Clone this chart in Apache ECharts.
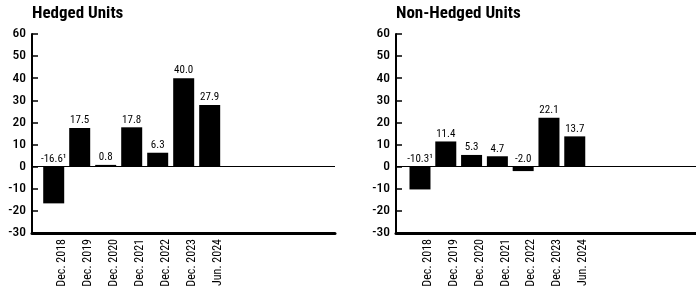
<!DOCTYPE html>
<html>
<head>
<meta charset="utf-8">
<script src="https://cdn.jsdelivr.net/npm/echarts@6/dist/echarts.min.js"></script>
<style>
  html, body { margin: 0; padding: 0; background: #fff; }
  #chart { width: 696px; height: 292px; }
</style>
</head>
<body>
<div id="chart"></div>
<script>
// data
const categories = ['Dec. 2018', 'Dec. 2019', 'Dec. 2020', 'Dec. 2021', 'Dec. 2022', 'Dec. 2023', 'Jun. 2024'];
const hedged = [-16.6, 17.5, 0.8, 17.8, 6.3, 40.0, 27.9];
const nonHedged = [-10.3, 11.4, 5.3, 4.7, -2.0, 22.1, 13.7];
const footnotes = ['\u00b9', '', '', '', '', '', ''];
const titles = ['Hedged Units', 'Non-Hedged Units'];

let ink = '#000';

// the original uses a condensed face; take the first narrow one we have
const ctx = document.createElement('canvas').getContext('2d');
function measure(txt, font) {
    ctx.font = font;
    return ctx.measureText(txt).width;
}
function hasFont(name) {
    const probe = 'abcdefghijklmnopqrstuvwxyz0123456789';
    return ['monospace', 'serif'].some(base =>
        measure(probe, '72px "' + name + '", ' + base) !== measure(probe, '72px ' + base));
}
const candidates = ['Liberation Sans Narrow', 'Noto Sans Condensed', 'Noto Sans SemiCondensed',
    'Roboto Condensed', 'Arial Narrow', 'Liberation Sans'];
const face = candidates.find(hasFont) || 'Liberation Sans';
const font = '"' + face + '", sans-serif';

// size each text role so its width matches the reference
function fit(txt, px, weight, cap) {
    const w = measure(txt, (weight || 'normal') + ' 100px ' + font);
    return Math.min(cap, Math.round(px / w * 100 * 2) / 2);
}
const titleSize = fit('Hedged Units', 91, 'bold', 17);
const yLabelSize = fit('-30', 17.5, '500', 15);
const valueSize = fit('17.5', 19.3, 'normal', 13);
const xLabelSize = fit('Dec. 2018', 48, 'normal', 13);

// grids sit a little right of the first bar slot, like the original
const panels = [
    {left: 32, width: 303, min: -0.835, max: 10.82, data: hedged},
    {left: 396, width: 300, min: -0.93, max: 10.70, data: nonHedged}
];

let chart = echarts.init(document.getElementById('chart'), null, {renderer: 'canvas'});

const toPairs = (arr) => arr.map((v, i) => [i, v]);

let option = {
    animation: false,
    backgroundColor: '#fff',
    title: panels.map((p, i) => ({
        text: titles[i],
        left: p.left,
        top: 5,
        padding: 0,
        textStyle: {fontFamily: font, fontSize: titleSize, fontWeight: 'bold', color: ink}
    })),
    grid: panels.map(p => ({
        left: p.left, top: 34, width: p.width, height: 199,
        containLabel: false, outerBoundsMode: 'none'
    })),
    xAxis: panels.map((p, i) => ({
        type: 'value',
        gridIndex: i,
        min: p.min,
        max: p.max,
        splitLine: {show: false},
        axisTick: {show: false},
        axisLine: {show: true, onZero: false, lineStyle: {color: ink, width: 3}},
        axisLabel: {
            customValues: categories.map((c, k) => k + 0.32),
            formatter: (v) => categories[Math.round(v)] || '',
            rotate: 90,
            margin: 6,
            fontFamily: font,
            fontSize: xLabelSize,
            color: ink
        }
    })),
    yAxis: panels.map((p, i) => ({
        type: 'value',
        gridIndex: i,
        min: -30,
        max: 60,
        interval: 10,
        splitLine: {show: false},
        axisLine: {show: true, onZero: false, lineStyle: {color: ink, width: 2}},
        axisTick: {show: true, inside: true, length: 6, lineStyle: {color: ink, width: 1.5}},
        axisLabel: {margin: 6, fontFamily: font, fontSize: yLabelSize, fontWeight: 500, color: ink}
    })),
    series: panels.map((p, i) => ({
        type: 'bar',
        xAxisIndex: i,
        yAxisIndex: i,
        barWidth: 21,
        data: toPairs(p.data),
        itemStyle: {color: ink},
        label: {
            show: true,
            position: 'top',
            distance: 2,
            fontFamily: font,
            fontSize: valueSize,
            color: ink,
            formatter: (d) => d.value[1].toFixed(1) + footnotes[d.dataIndex]
        },
        markLine: {
            silent: true,
            symbol: ['none', 'none'],
            label: {show: false},
            lineStyle: {color: ink, width: 1, type: 'solid'},
            data: [{yAxis: 0}]
        }
    }))
};

chart.setOption(option);
</script>
</body>
</html>
